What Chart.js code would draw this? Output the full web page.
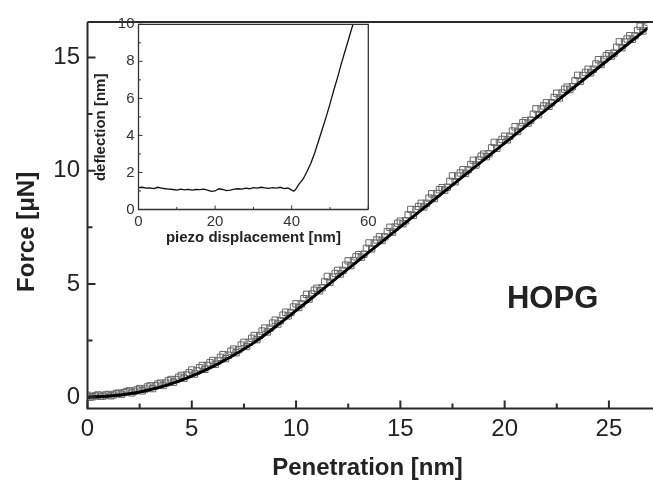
<!DOCTYPE html>
<html>
<head>
<meta charset="utf-8">
<script src="https://cdn.jsdelivr.net/npm/chart.js@4"></script>
<style>
  body { margin: 0; background: #fff; }
  #wrap { position: relative; width: 653px; height: 483px; }
  #mainBox { position: absolute; left: 0; top: 0; width: 653px; height: 483px; }
  #insetBox { position: absolute; left: 0; top: 0; width: 380px; height: 250px; }
</style>
</head>
<body>
<div id="wrap">
  <div id="mainBox"><canvas id="mainChart"></canvas></div>
  <div id="insetBox"><canvas id="insetChart"></canvas></div>
</div>
<script>
// main plot: fitted curve (penetration [nm] -> force [uN])
const fitX = [0,1,2,3,4,5,6,7,8,9,10,11,12,13,14,15,16,17,18,19,20,21,22,23,24,25,26,27];
const fitY = [0,0.05,0.15,0.33,0.59,0.93,1.35,1.85,2.42,3.10,3.82,4.56,5.30,6.04,6.78,7.52,
              8.26,9.00,9.74,10.48,11.22,11.96,12.70,13.44,14.18,14.92,15.66,16.40];

// measured points (open squares), two interleaved runs
const sqX = [0,0.25,0.5,0.75,1,1.25,1.5,1.75,2,2.25,2.5,2.75,3,3.25,3.5,3.75,4,4.25,4.5,4.75,
             5,5.25,5.5,5.75,6,6.25,6.5,6.75,7,7.25,7.5,7.75,8,8.25,8.5,8.75,9,9.25,9.5,9.75,
             10,10.25,10.5,10.75,11,11.25,11.5,11.75,12,12.25,12.5,12.75,13,13.25,13.5,13.75,
             14,14.25,14.5,14.75,15,15.25,15.5,15.75,16,16.25,16.5,16.75,17,17.25,17.5,17.75,
             18,18.25,18.5,18.75,19,19.25,19.5,19.75,20,20.25,20.5,20.75,21,21.25,21.5,21.75,
             22,22.25,22.5,22.75,23,23.25,23.5,23.75,24,24.25,24.5,24.75,25,25.25,25.5,25.75,
             26,26.25,26.5,26.75];
const sqY = [0.08,0.02,0.10,0.05,0.12,0.10,0.18,0.20,0.28,0.26,0.38,0.36,0.50,0.50,0.62,0.62,
             0.78,0.78,0.96,0.98,1.20,1.16,1.40,1.40,1.62,1.60,1.88,1.85,2.12,2.10,2.42,2.42,
             2.72,2.72,3.05,3.05,3.40,3.38,3.75,3.74,4.12,4.12,4.54,4.55,4.81,4.83,5.33,5.30,
             5.60,5.60,6.02,6.03,6.29,6.31,6.81,6.80,7.08,7.08,7.50,7.51,7.77,7.79,8.29,8.28,
             8.56,8.56,8.98,8.99,9.25,9.27,9.77,9.76,10.04,10.04,10.46,10.47,10.73,10.75,11.25,11.24,
             11.52,11.52,11.94,11.95,12.21,12.23,12.73,12.72,13.00,13.00,13.42,13.43,13.69,13.71,14.21,14.20,
             14.48,14.48,14.90,14.91,15.17,15.19,15.69,15.68,15.96,15.96,16.38,16.39];
const sqX2 = [0.125,0.375,0.625,0.875,1.125,1.375,1.625,1.875,2.125,2.375,2.625,2.875,3.125,3.375,
              3.625,3.875,4.125,4.375,4.625,4.875,5.125,5.375,5.625,5.875,6.125,6.375,6.625,6.875,
              7.125,7.375,7.625,7.875,8.125,8.375,8.625,8.875,9.125,9.375,9.625,9.875,10.125,10.375,
              10.625,10.875,11.125,11.375,11.625,11.875,12.125,12.375,12.625,12.875,13.125,13.375,
              13.625,13.875,14.125,14.375,14.625,14.875,15.125,15.375,15.625,15.875,16.125,16.375,
              16.625,16.875,17.125,17.375,17.625,17.875,18.125,18.375,18.625,18.875,19.125,19.375,
              19.625,19.875,20.125,20.375,20.625,20.875,21.125,21.375,21.625,21.875,22.125,22.375,
              22.625,22.875,23.125,23.375,23.625,23.875,24.125,24.375,24.625,24.875,25.125,25.375,
              25.625,25.875,26.125,26.375,26.625,26.875];
const sqY2 = [0.00,0.06,0.04,0.10,0.06,0.16,0.13,0.24,0.19,0.32,0.28,0.45,0.38,0.58,0.52,0.72,
              0.66,0.88,0.84,1.08,1.02,1.30,1.23,1.52,1.45,1.76,1.70,2.03,1.96,2.30,2.24,2.60,
              2.54,2.92,2.88,3.27,3.23,3.62,3.59,3.98,3.96,4.35,4.33,4.72,4.70,5.09,5.07,5.46,
              5.44,5.83,5.81,6.20,6.18,6.57,6.55,6.94,6.92,7.31,7.29,7.68,7.66,8.05,8.03,8.42,
              8.40,8.79,8.77,9.16,9.14,9.53,9.51,9.90,9.88,10.27,10.25,10.64,10.62,11.01,10.99,11.38,
              11.36,11.75,11.73,12.12,12.10,12.49,12.47,12.86,12.84,13.23,13.21,13.60,13.58,13.97,13.95,14.34,
              14.32,14.71,14.69,15.08,15.06,15.45,15.43,15.82,15.80,16.19,16.17,16.56];

const xTicks = [0, 5, 10, 15, 20, 25];
const xMinor = [2.5, 7.5, 12.5, 17.5, 22.5];
const yTicks = [0, 5, 10, 15];
const yMinor = [2.5, 7.5, 12.5];

// inset: piezo displacement [nm] -> deflection [nm]
const inX = [0,1,2,3,4,5,6,7,8,9,10,11,12,13,14,15,16,17,18,19,20,21,22,23,24,25,26,27,28,29,30,
             31,32,33,34,35,36,37,38,39,40,40.5,41,42,43,44,45,46,47,48,49,50,51,52,53,54,55,56];
const inY = [1.18,1.20,1.15,1.17,1.13,1.20,1.16,1.12,1.10,1.08,1.05,1.10,1.06,1.09,1.05,1.08,
             1.07,1.10,1.05,0.98,1.00,1.12,1.08,1.02,1.05,1.10,1.12,1.10,1.15,1.12,1.18,1.15,
             1.20,1.17,1.14,1.18,1.15,1.20,1.13,1.16,1.05,0.99,1.08,1.40,1.65,2.05,2.50,3.05,
             3.70,4.35,5.00,5.70,6.45,7.15,7.90,8.60,9.30,10.00];
const inXTicks = [0, 20, 40, 60];
const inXMinor = [10, 30, 50];
const inYTicks = [0, 2, 4, 6, 8, 10];
const inYMinor = [1, 3, 5, 7, 9];

Chart.defaults.font.family = '"Liberation Sans", Arial, sans-serif';
Chart.defaults.color = '#222';

// frame lines and inward ticks, placed with the chart's own scales
function frameTicks(o) {
  return {
    id: 'frameTicks',
    afterDraw(chart) {
      const ctx = chart.ctx, a = chart.chartArea;
      const sx = chart.scales.x, sy = chart.scales.y;
      ctx.save();
      ctx.strokeStyle = o.color;
      ctx.lineWidth = o.width;
      ctx.beginPath();
      ctx.moveTo(a.left, a.top);
      ctx.lineTo(a.left, a.bottom);
      ctx.lineTo(o.box ? a.right : chart.width, a.bottom);
      ctx.moveTo(a.left, a.top);
      ctx.lineTo(o.box ? a.right : chart.width, a.top);
      if (o.box) ctx.lineTo(a.right, a.bottom);
      ctx.stroke();
      ctx.lineWidth = o.tickWidth;
      ctx.beginPath();
      o.xMajor.concat(o.xMinor).forEach((v, i) => {
        const len = i < o.xMajor.length ? o.major : o.minor;
        const px = sx.getPixelForValue(v);
        ctx.moveTo(px, a.bottom);
        ctx.lineTo(px, a.bottom - len);
      });
      o.yMajor.concat(o.yMinor).forEach((v, i) => {
        const len = i < o.yMajor.length ? o.major : o.minor;
        const py = sy.getPixelForValue(v);
        ctx.moveTo(a.left, py);
        ctx.lineTo(a.left + len, py);
      });
      ctx.stroke();
      ctx.restore();
    }
  };
}

const hopgLabel = {
  id: 'hopgLabel',
  afterDraw(chart) {
    const ctx = chart.ctx;
    ctx.save();
    ctx.font = 'bold 31px "Liberation Sans", Arial, sans-serif';
    ctx.fillStyle = '#222';
    ctx.textAlign = 'center';
    ctx.textBaseline = 'middle';
    ctx.fillText('HOPG', chart.scales.x.getPixelForValue(22.3), chart.scales.y.getPixelForValue(4.3));
    ctx.restore();
  }
};

const squareStyle = {
  pointStyle: 'rect',
  pointRadius: 4.5,
  borderWidth: 1,
  borderColor: '#666',
  backgroundColor: 'rgba(255,255,255,0)'
};

new Chart(document.getElementById('mainChart'), {
  type: 'scatter',
  data: {
    datasets: [
      {
        data: fitX.map((x, i) => ({ x: x, y: fitY[i] })),
        showLine: true,
        borderColor: '#000',
        borderWidth: 3,
        pointRadius: 0,
        cubicInterpolationMode: 'monotone'
      },
      Object.assign({ data: sqX.map((x, i) => ({ x: x, y: sqY[i] })) }, squareStyle),
      Object.assign({ data: sqX2.map((x, i) => ({ x: x, y: sqY2[i] })) }, squareStyle)
    ]
  },
  options: {
    responsive: true,
    maintainAspectRatio: false,
    animation: false,
    devicePixelRatio: 1,
    layout: { padding: { left: 0, top: 12, right: 0, bottom: 0 } },
    plugins: { legend: { display: false }, tooltip: { enabled: false } },
    scales: {
      x: {
        type: 'linear', min: 0, max: 26.85,
        afterBuildTicks: s => { s.ticks = xTicks.map(v => ({ value: v })); },
        afterFit: s => { s.height = 74.5; },
        grid: { display: false, drawTicks: false },
        border: { display: false },
        ticks: { padding: 6.5, autoSkip: false, maxRotation: 0, font: { size: 24 }, color: '#222' },
        title: { display: true, text: 'Penetration [nm]', color: '#222',
                 font: { size: 24, weight: 'bold', lineHeight: 1.2 }, padding: { top: 0, bottom: 0 } }
      },
      y: {
        type: 'linear', min: -0.5, max: 16.57,
        afterBuildTicks: s => { s.ticks = yTicks.map(v => ({ value: v })); },
        afterFit: s => { s.width = 87.5; },
        grid: { display: false, drawTicks: false },
        border: { display: false },
        ticks: { padding: 7.5, autoSkip: false, font: { size: 24 }, color: '#222' },
        title: { display: true, text: 'Force [\u03bcN]     ', color: '#222',
                 font: { size: 24, weight: 'bold', lineHeight: 1.2 }, padding: { top: 13, bottom: 0 } }
      }
    }
  },
  plugins: [frameTicks({ color: '#2a2a2a', width: 2, tickWidth: 2, major: 8, minor: 5, box: false,
                         xMajor: xTicks, xMinor: xMinor, yMajor: yTicks, yMinor: yMinor }), hopgLabel]
});

new Chart(document.getElementById('insetChart'), {
  type: 'scatter',
  data: {
    datasets: [{
      data: inX.map((x, i) => ({ x: x, y: inY[i] })),
      showLine: true,
      borderColor: '#111',
      borderWidth: 1.3,
      pointRadius: 0
    }]
  },
  options: {
    responsive: true,
    maintainAspectRatio: false,
    animation: false,
    devicePixelRatio: 1,
    layout: { padding: { left: 90, top: 24.3, right: 11.7, bottom: 0 } },
    plugins: { legend: { display: false }, tooltip: { enabled: false } },
    scales: {
      x: {
        type: 'linear', min: 0, max: 60,
        afterBuildTicks: s => { s.ticks = inXTicks.map(v => ({ value: v })); },
        afterFit: s => { s.height = 40.5; },
        grid: { display: false, drawTicks: false },
        border: { display: false },
        ticks: { padding: 3, autoSkip: false, maxRotation: 0, font: { size: 15 }, color: '#333' },
        title: { display: true, text: 'piezo displacement [nm]', color: '#222',
                 font: { size: 15, weight: 'bold', lineHeight: 1.2 }, padding: { top: 0, bottom: 3 } }
      },
      y: {
        type: 'linear', min: 0, max: 10,
        afterBuildTicks: s => { s.ticks = inYTicks.map(v => ({ value: v })); },
        afterFit: s => { s.width = 48.5; },
        grid: { display: false, drawTicks: false },
        border: { display: false },
        ticks: { padding: 4, autoSkip: false, font: { size: 15 }, color: '#333' },
        title: { display: true, text: 'deflection [nm]     ', color: '#222',
                 font: { size: 15, weight: 'bold', lineHeight: 1.2 }, padding: { top: 2, bottom: 0 } }
      }
    }
  },
  plugins: [frameTicks({ color: '#333', width: 1.3, tickWidth: 1, major: 4, minor: 2.5, box: true,
                         xMajor: inXTicks, xMinor: inXMinor, yMajor: inYTicks, yMinor: inYMinor })]
});
</script>
</body>
</html>
